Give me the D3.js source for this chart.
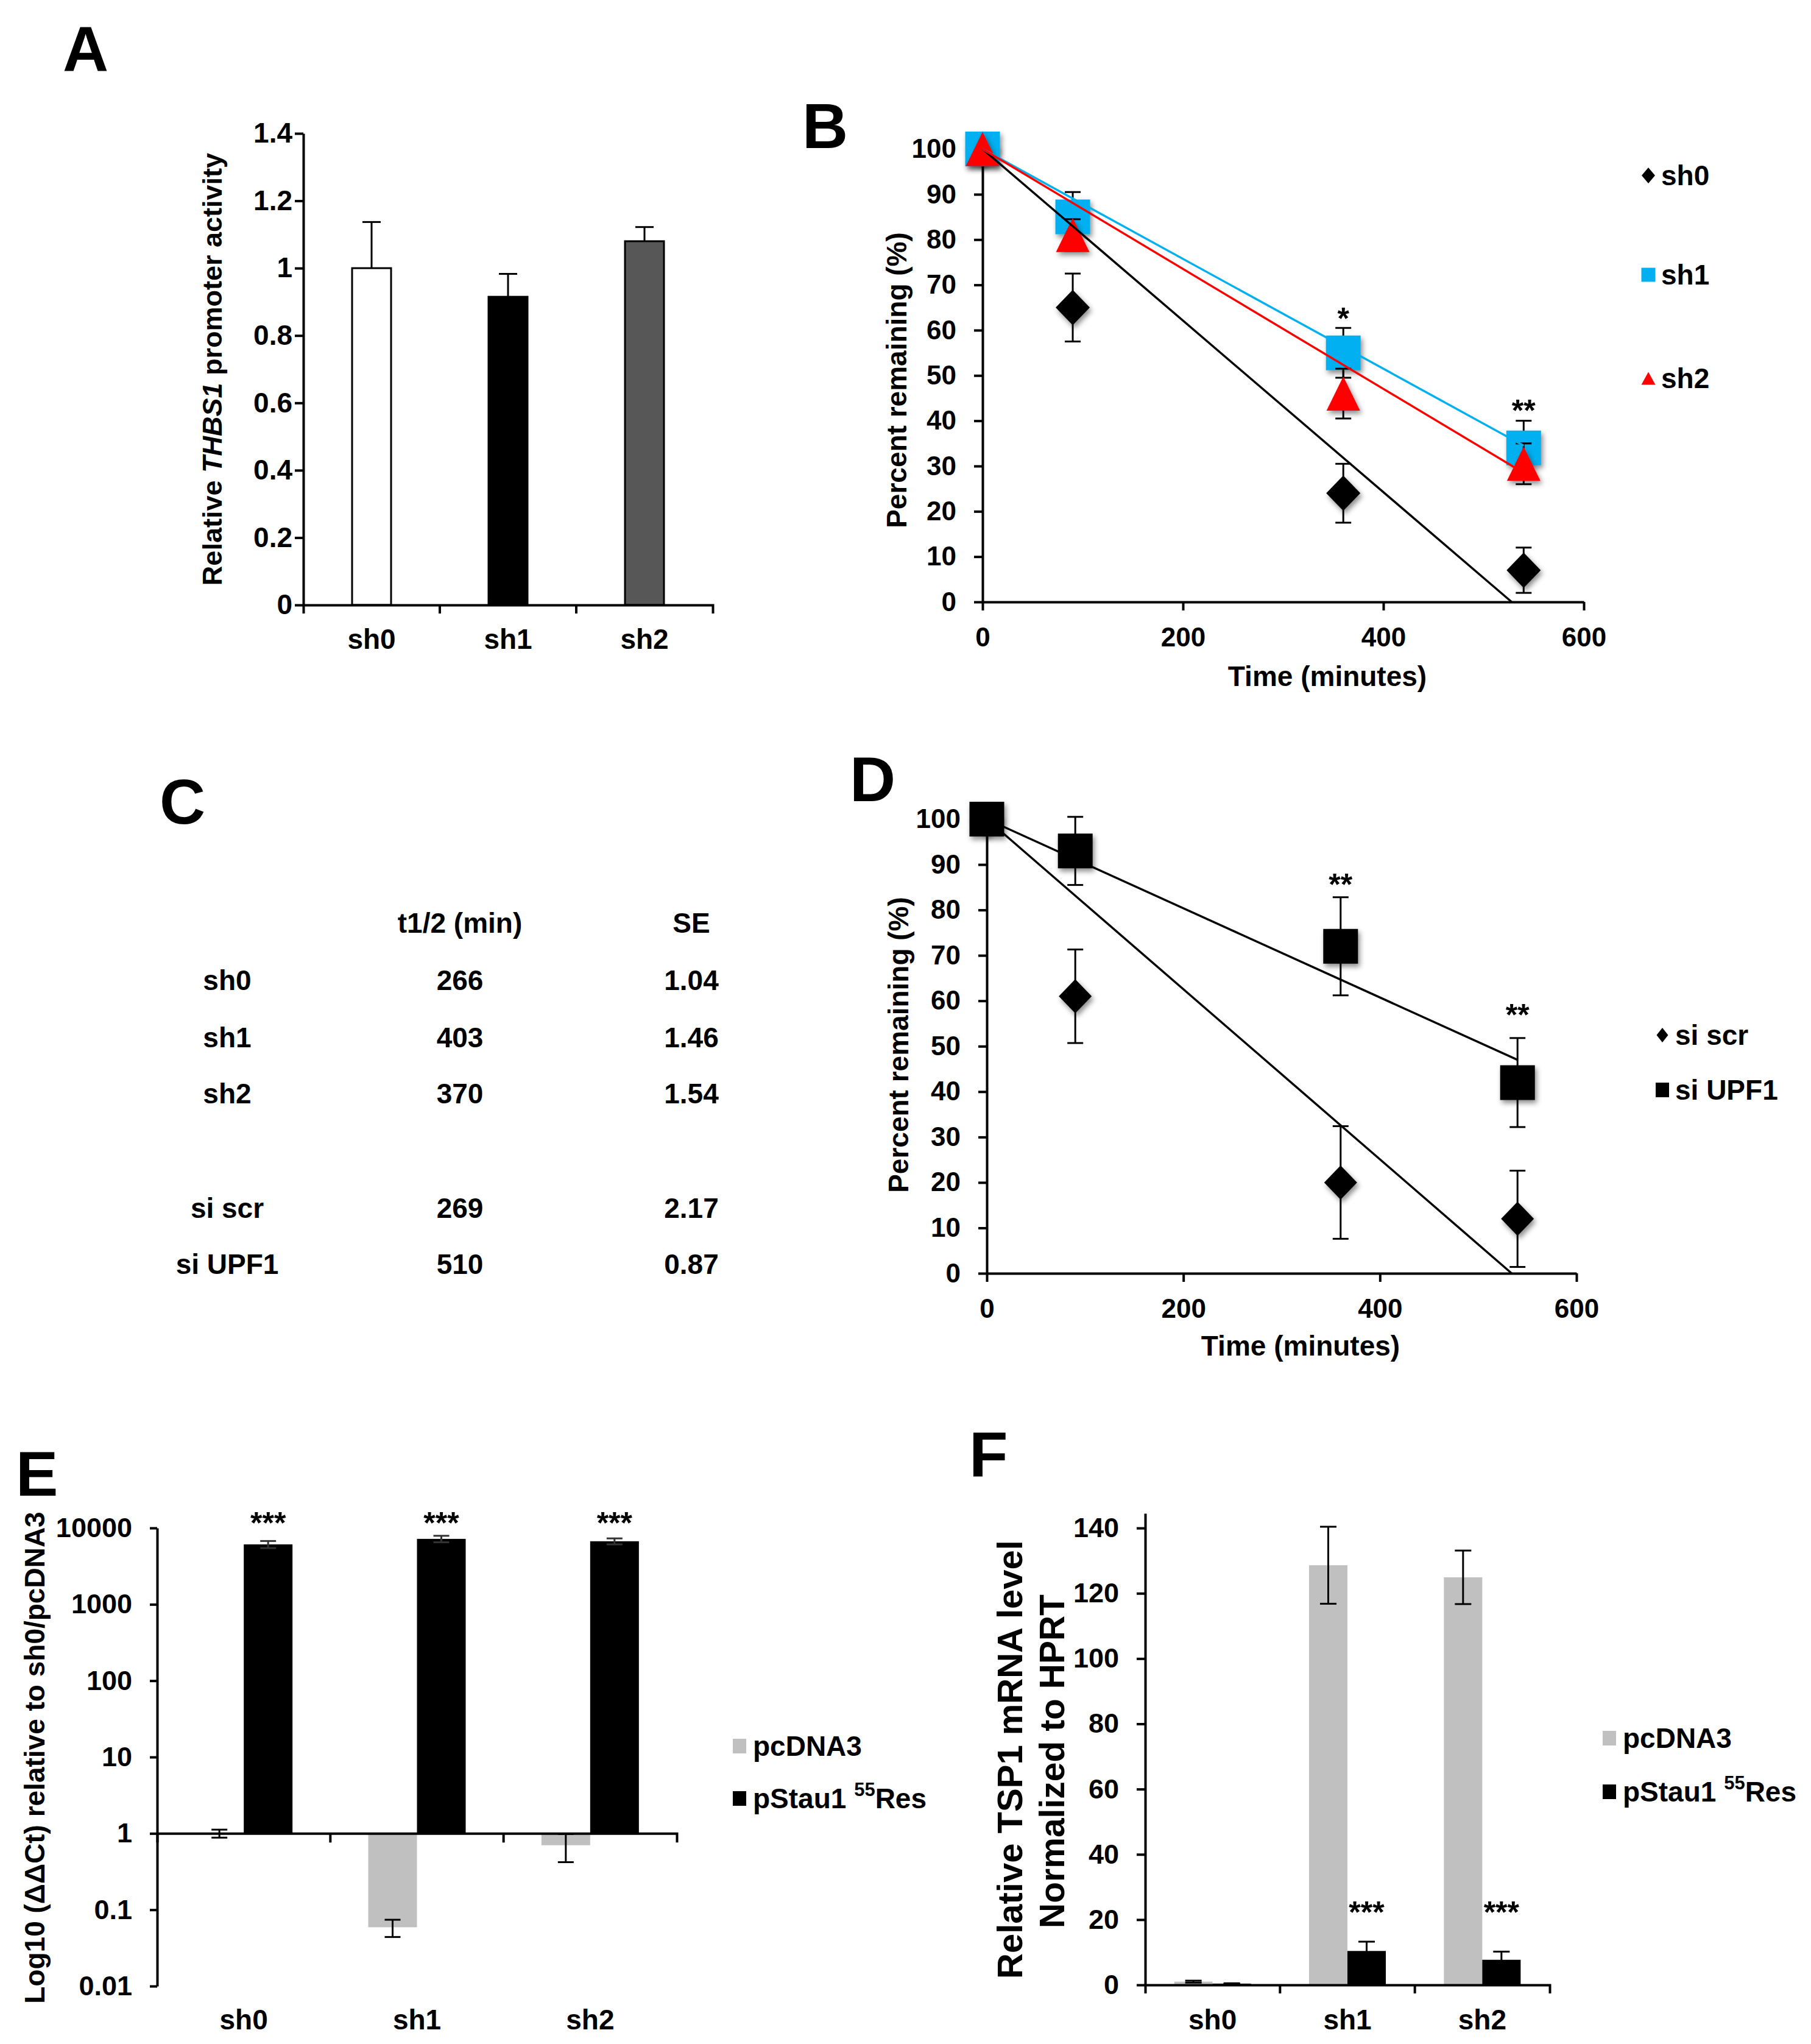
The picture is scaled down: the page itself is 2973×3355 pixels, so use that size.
<!DOCTYPE html>
<html>
<head>
<meta charset="utf-8">
<script src="https://cdn.jsdelivr.net/npm/d3@7/dist/d3.min.js"></script>
<style>
  body { margin: 0; background: #fff; }
  svg { display: block; }
</style>
</head>
<body>
<svg id="fig" width="2973" height="3355"></svg>
<script>
// ---------------- DATA ----------------
// Panel A
const catsA = ["sh0", "sh1", "sh2"];
const valuesA = [1.00, 0.915, 1.08];
const errorsA = [0.137, 0.068, 0.042];
const fillsA = ["#ffffff", "#000000", "#575757"];
const ticksA = [0, 0.2, 0.4, 0.6, 0.8, 1.0, 1.2, 1.4];
const tickLabelsA = ["0", "0.2", "0.4", "0.6", "0.8", "1", "1.2", "1.4"];

// Panel B
const timesB = [0, 90, 360, 540];
const sh0B = [100, 65, 24, 7];
const sh0ErrB = [0, 7.5, 6.5, 5];
const sh1B = [100, 85, 55, 34];
const sh1ErrB = [0, 5.5, 5.5, 6];
const sh2B = [100, 81, 46, 30.5];
const sh2ErrB = [0, 3.5, 5.5, 4.5];
const fitSh0B = [[0, 100], [528, 0]];
const fitSh1B = [[0, 100], [540, 34.5]];
const fitSh2B = [[0, 100], [540, 28.5]];
const starsB = [[360, 64, "*"], [540, 43.7, "**"]];
const xTicksB = [0, 200, 400, 600];
const yTicksB = [0, 10, 20, 30, 40, 50, 60, 70, 80, 90, 100];

// Panel C (table)
const tableHeaderC = ["", "t1/2 (min)", "SE"];
const rowNamesC = ["sh0", "sh1", "sh2", "si scr", "si UPF1"];
const halfLifeC = ["266", "403", "370", "269", "510"];
const seC = ["1.04", "1.46", "1.54", "2.17", "0.87"];

// Panel D
const timesD = [0, 90, 360, 540];
const scrD = [100, 61, 20, 12];
const scrErrD = [0, 10.3, 12.4, 10.6];
const upfD = [100, 93, 72, 42];
const upfErrD = [0, 7.5, 10.8, 9.8];
const fitScrD = [[0, 100], [534, 0]];
const fitUpfD = [[0, 100], [540, 47]];
const starsD = [[360, 87, "**"], [540, 58.3, "**"]];
const xTicksD = [0, 200, 400, 600];
const yTicksD = [0, 10, 20, 30, 40, 50, 60, 70, 80, 90, 100];

// Panel E (log scale)
const catsE = ["sh0", "sh1", "sh2"];
const pcE = [1.0, 0.059, 0.70];
const pcErrE = [0.12, 0.015, 0.28];
const psE = [6100, 7200, 6700];
const psErrE = [650, 700, 600];
const starsE = [14000, 14000, 14000];
const ticksE = [0.01, 0.1, 1, 10, 100, 1000, 10000];
const tickLabelsE = ["0.01", "0.1", "1", "10", "100", "1000", "10000"];

// Panel F
const catsF = ["sh0", "sh1", "sh2"];
const pcF = [1.0, 128.6, 124.9];
const pcErrF = [0.3, 11.8, 8.2];
const psF = [0.4, 10.4, 7.7];
const psErrF = [0.1, 2.85, 2.5];
const starsF = [null, 24.2, 24.2];
const ticksF = [0, 20, 40, 60, 80, 100, 120, 140];

// ---------------- HELPERS ----------------
const FONT = '"Liberation Sans", Arial, Helvetica, sans-serif';
const svg = d3.select("#fig");
const defs = svg.append("defs");
defs.append("filter").attr("id", "shadow")
  .attr("x", "-60%").attr("y", "-60%").attr("width", "220%").attr("height", "220%")
  .append("feDropShadow").attr("dx", 3).attr("dy", 5).attr("stdDeviation", 4)
  .attr("flood-color", "#000").attr("flood-opacity", 0.45);

function txt(g, x, y, s, size, opts = {}) {
  const t = g.append("text").attr("x", x).attr("y", y)
    .attr("font-family", FONT).attr("font-weight", "bold")
    .attr("font-size", size).attr("fill", "#000")
    .attr("text-anchor", opts.anchor || "start");
  if (opts.baseline) t.attr("dominant-baseline", opts.baseline);
  if (opts.rotate) t.attr("transform", `rotate(-90,${x},${y})`);
  if (s !== null) t.text(s);
  return t;
}

function styleAxis(g, fs) {
  g.attr("font-family", null).attr("font-size", null);
  g.selectAll("path.domain").attr("stroke", "#000").attr("stroke-width", 4).attr("fill", "none");
  g.selectAll(".tick line").attr("stroke", "#000").attr("stroke-width", 4);
  g.selectAll(".tick text").attr("font-family", FONT).attr("font-weight", "bold")
    .attr("font-size", fs).attr("fill", "#000");
}

function shapePath(type, w, h) {
  if (type === "square") return `M${-w/2},${-h/2}h${w}v${h}h${-w}Z`;
  if (type === "diamond") return `M0,${-h/2}L${w/2},0L0,${h/2}L${-w/2},0Z`;
  if (type === "triangle") return `M0,${-h/2}L${w/2},${h/2}L${-w/2},${h/2}Z`;
}

function errorBar(g, x, y1, y2, cap, sw, color) {
  g.append("line").attr("x1", x).attr("x2", x).attr("y1", y1).attr("y2", y2)
    .attr("stroke", color || "#000").attr("stroke-width", sw);
  [y1, y2].forEach(yy => g.append("line").attr("x1", x - cap/2).attr("x2", x + cap/2)
    .attr("y1", yy).attr("y2", yy).attr("stroke", color || "#000").attr("stroke-width", sw));
}

function starText(g, x, yCenter, s, size) {
  // asterisk glyph sits high in the em box; shift baseline so its centre is at yCenter
  txt(g, x, yCenter + 0.55 * size, s, size, { anchor: "middle" });
}

// ---------------- PANEL A ----------------
(function () {
  const g = svg.append("g");
  txt(g, 103, 116, "A", 104);
  const x = d3.scaleBand().domain(catsA).range([498, 1170]);
  const y = d3.scaleLinear().domain([0, 1.4]).range([993, 219]);
  const bw = 64;
  catsA.forEach((c, i) => {
    const cx = x(c) + x.bandwidth() / 2;
    errorBar(g, cx, y(valuesA[i]), y(valuesA[i] + errorsA[i]), 0, 3);
    g.append("line").attr("x1", cx - 15).attr("x2", cx + 15)
      .attr("y1", y(valuesA[i] + errorsA[i])).attr("y2", y(valuesA[i] + errorsA[i]))
      .attr("stroke", "#000").attr("stroke-width", 3);
    g.append("rect").attr("x", cx - bw / 2).attr("y", y(valuesA[i]))
      .attr("width", bw).attr("height", y(0) - y(valuesA[i]))
      .attr("fill", fillsA[i]).attr("stroke", "#000").attr("stroke-width", 3);
  });
  const ya = g.append("g").attr("transform", `translate(${x.range()[0]},0)`)
    .call(d3.axisLeft(y).tickValues(ticksA).tickFormat(d => tickLabelsA[ticksA.indexOf(d)])
      .tickSize(14).tickPadding(4).tickSizeOuter(0));
  styleAxis(ya, 46);
  const xa = g.append("g").attr("transform", `translate(0,${y(0)})`)
    .call(d3.axisBottom(x).tickSize(0).tickPadding(39).tickSizeOuter(14));
  styleAxis(xa, 46);
  catsA.slice(1).forEach(c => g.append("line").attr("x1", x(c)).attr("x2", x(c))
    .attr("y1", y(0)).attr("y2", y(0) + 14).attr("stroke", "#000").attr("stroke-width", 4));
  const t = txt(g, 348, 606, null, 45, { anchor: "middle", baseline: "central", rotate: true });
  t.append("tspan").text("Relative ");
  t.append("tspan").attr("font-style", "italic").text("THBS1");
  t.append("tspan").text(" promoter activity");
})();

// ---------------- line-plot helper (B, D) ----------------
function decayPanel(cfg) {
  const g = svg.append("g");
  const x = d3.scaleLinear().domain([0, 600]).range(cfg.xRange);
  const y = d3.scaleLinear().domain([0, 100]).range(cfg.yRange);
  const ya = g.append("g").attr("transform", `translate(${x(0)},0)`)
    .call(d3.axisLeft(y).tickValues(cfg.yTicks).tickSize(14).tickPadding(29).tickSizeOuter(0));
  styleAxis(ya, 44);
  const xa = g.append("g").attr("transform", `translate(0,${y(0)})`)
    .call(d3.axisBottom(x).tickValues(cfg.xTicks).tickSize(14).tickPadding(28).tickSizeOuter(0));
  styleAxis(xa, 44);

  cfg.series.forEach(s => {
    cfg.times.forEach((t, i) => {
      if (s.err[i] > 0) errorBar(g, x(t), y(s.vals[i] - s.err[i]), y(s.vals[i] + s.err[i]), 26, 3);
    });
    g.selectAll(null).data(cfg.times).join("path")
      .attr("d", shapePath(s.shape, s.w, s.h))
      .attr("transform", (t, i) => `translate(${x(t)},${y(s.vals[i])})`)
      .attr("fill", s.color).attr("filter", "url(#shadow)");
  });
  const line = d3.line().x(d => x(d[0])).y(d => y(d[1]));
  cfg.series.forEach(s => {
    g.append("path").attr("d", line(s.fit)).attr("fill", "none")
      .attr("stroke", s.lineColor).attr("stroke-width", 3.5);
  });
  cfg.stars.forEach(st => starText(g, x(st[0]), y(st[1]), st[2], 50));
  // legend
  cfg.series.forEach((s, i) => {
    const ly = cfg.legendY[i];
    g.append("path").attr("d", shapePath(s.shape, s.lw, s.lh))
      .attr("transform", `translate(${cfg.legendX},${ly})`).attr("fill", s.color);
    txt(g, cfg.legendX + 21, ly, s.name, 46, { baseline: "central" });
  });
  txt(g, cfg.xTitle[0], cfg.xTitle[1], "Time (minutes)", 46, { anchor: "middle", baseline: "central" });
  txt(g, cfg.yTitle[0], cfg.yTitle[1], "Percent remaining (%)", 46, { anchor: "middle", baseline: "central", rotate: true });
  txt(g, cfg.label[0], cfg.label[1], cfg.label[2], 104);
}

// ---------------- PANEL B ----------------
decayPanel({
  xRange: [1613, 2600], yRange: [988, 244.6],
  xTicks: xTicksB, yTicks: yTicksB, times: timesB,
  series: [
    { name: "sh0", vals: sh0B, err: sh0ErrB, fit: fitSh0B, shape: "diamond", w: 56, h: 58, lw: 22, lh: 26, color: "#000000", lineColor: "#000000" },
    { name: "sh1", vals: sh1B, err: sh1ErrB, fit: fitSh1B, shape: "square", w: 57, h: 57, lw: 23, lh: 23, color: "#00b0f0", lineColor: "#00b0f0" },
    { name: "sh2", vals: sh2B, err: sh2ErrB, fit: fitSh2B, shape: "triangle", w: 55, h: 56, lw: 23, lh: 21, color: "#ff0000", lineColor: "#ff0000" }
  ],
  stars: starsB,
  legendX: 2706, legendY: [288, 451, 621],
  xTitle: [2179, 1110], yTitle: [1472, 624],
  label: [1317, 243, "B"]
});

// ---------------- PANEL C ----------------
(function () {
  const g = svg.append("g");
  txt(g, 262, 1352, "C", 104);
  const colX = [373, 755, 1135];
  const rowY = [1609, 1703, 1795, 1983, 2075];
  tableHeaderC.forEach((h, j) => { if (h) txt(g, colX[j], 1515, h, 46, { anchor: "middle", baseline: "central" }); });
  rowNamesC.forEach((r, i) => {
    txt(g, colX[0], rowY[i], r, 46, { anchor: "middle", baseline: "central" });
    txt(g, colX[1], rowY[i], halfLifeC[i], 46, { anchor: "middle", baseline: "central" });
    txt(g, colX[2], rowY[i], seC[i], 46, { anchor: "middle", baseline: "central" });
  });
})();

// ---------------- PANEL D ----------------
decayPanel({
  xRange: [1620, 2588], yRange: [2090, 1344.5],
  xTicks: xTicksD, yTicks: yTicksD, times: timesD,
  series: [
    { name: "si scr", vals: scrD, err: scrErrD, fit: fitScrD, shape: "diamond", w: 54, h: 56, lw: 19, lh: 24, color: "#000000", lineColor: "#000000" },
    { name: "si UPF1", vals: upfD, err: upfErrD, fit: fitUpfD, shape: "square", w: 57, h: 57, lw: 22, lh: 24, color: "#000000", lineColor: "#000000" }
  ],
  stars: starsD,
  legendX: 2729, legendY: [1699, 1789],
  xTitle: [2135, 2209], yTitle: [1475, 1715],
  label: [1395, 1315, "D"]
});

// ---------------- legend helper (E, F) ----------------
function barLegend(g, lx, ys) {
  g.append("rect").attr("x", lx - 11).attr("y", ys[0] - 12).attr("width", 22).attr("height", 24).attr("fill", "#c0c0c0");
  txt(g, lx + 22, ys[0], "pcDNA3", 46, { baseline: "central" });
  g.append("rect").attr("x", lx - 11).attr("y", ys[1] - 12).attr("width", 22).attr("height", 24).attr("fill", "#000");
  const t = txt(g, lx + 22, ys[1], null, 46, { baseline: "central" });
  t.append("tspan").text("pStau1 ");
  t.append("tspan").attr("font-size", 31).attr("dy", -15).text("55");
  t.append("tspan").attr("font-size", 46).attr("dy", 15).text("Res");
}

// ---------------- PANEL E ----------------
(function () {
  const g = svg.append("g");
  txt(g, 26, 2455, "E", 104);
  const x = d3.scaleBand().domain(catsE).range([258, 1111]);
  const y = d3.scaleLog().domain([0.01, 10000]).range([3260, 2508]);
  const bw = 80;
  catsE.forEach((c, i) => {
    const cx = x(c) + x.bandwidth() / 2;
    // pcDNA3 (grey), grows from 1
    const gy = y(pcE[i]);
    g.append("rect").attr("x", cx - bw).attr("y", Math.min(gy, y(1)))
      .attr("width", bw).attr("height", Math.abs(gy - y(1))).attr("fill", "#c0c0c0");
    errorBar(g, cx - bw / 2, y(pcE[i] - pcErrE[i]), y(pcE[i] + pcErrE[i]), 26, 3);
    // pStau1 55Res (black)
    const by = y(psE[i]);
    g.append("rect").attr("x", cx).attr("y", by)
      .attr("width", bw).attr("height", y(1) - by).attr("fill", "#000");
    errorBar(g, cx + bw / 2, y(psE[i] - psErrE[i]), y(psE[i] + psErrE[i]), 26, 3, "#333");
    starText(g, cx + bw / 2, y(starsE[i]), "***", 50);
  });
  const ya = g.append("g").attr("transform", `translate(${x.range()[0]},0)`)
    .call(d3.axisLeft(y).tickValues(ticksE).tickFormat(d => tickLabelsE[ticksE.indexOf(d)])
      .tickSize(12).tickPadding(29).tickSizeOuter(0));
  styleAxis(ya, 45);
  const xa = g.append("g").attr("transform", `translate(0,${y(1)})`)
    .call(d3.axisBottom(x).tickSize(0).tickFormat(() => "").tickSizeOuter(15));
  styleAxis(xa, 45);
  catsE.slice(1).forEach(c => g.append("line").attr("x1", x(c)).attr("x2", x(c))
    .attr("y1", y(1)).attr("y2", y(1) + 15).attr("stroke", "#000").attr("stroke-width", 4));
  const xl = g.append("g").attr("transform", `translate(0,${y(0.01)})`)
    .call(d3.axisBottom(x).tickSize(0).tickPadding(38));
  xl.select("path.domain").remove();
  styleAxis(xl, 46);
  txt(g, 57, 2885, "Log10 (ΔΔCt) relative to sh0/pcDNA3", 46, { anchor: "middle", baseline: "central", rotate: true });
  barLegend(g, 1214, [2866, 2952]);
})();

// ---------------- PANEL F ----------------
(function () {
  const g = svg.append("g");
  txt(g, 1591, 2423, "F", 104);
  const x = d3.scaleBand().domain(catsF).range([1880, 2544]);
  const y = d3.scaleLinear().domain([0, 144.5]).range([3258, 2484]);
  const bw = 63;
  catsF.forEach((c, i) => {
    const cx = x(c) + x.bandwidth() / 2;
    g.append("rect").attr("x", cx - bw).attr("y", y(pcF[i]))
      .attr("width", bw).attr("height", y(0) - y(pcF[i])).attr("fill", "#c0c0c0");
    errorBar(g, cx - bw / 2, y(pcF[i] - pcErrF[i]), y(pcF[i] + pcErrF[i]), 27, 3);
    g.append("rect").attr("x", cx).attr("y", y(psF[i]))
      .attr("width", bw).attr("height", y(0) - y(psF[i])).attr("fill", "#000");
    errorBar(g, cx + bw / 2, y(psF[i] - psErrF[i]), y(psF[i] + psErrF[i]), 27, 3);
    if (starsF[i] !== null) starText(g, cx + bw / 2, y(starsF[i]), "***", 50);
  });
  const ya = g.append("g").attr("transform", `translate(${x.range()[0]},0)`)
    .call(d3.axisLeft(y).tickValues(ticksF).tickSize(14).tickPadding(29).tickSizeOuter(0));
  styleAxis(ya, 45);
  const xa = g.append("g").attr("transform", `translate(0,${y(0)})`)
    .call(d3.axisBottom(x).tickSize(0).tickPadding(40).tickSizeOuter(14));
  styleAxis(xa, 46);
  catsF.slice(1).forEach(c => g.append("line").attr("x1", x(c)).attr("x2", x(c))
    .attr("y1", y(0)).attr("y2", y(0) + 14).attr("stroke", "#000").attr("stroke-width", 4));
  txt(g, 1657, 2888, "Relative TSP1 mRNA level", 58, { anchor: "middle", baseline: "central", rotate: true });
  txt(g, 1727, 2891, "Normalized to HPRT", 57, { anchor: "middle", baseline: "central", rotate: true });
  barLegend(g, 2642, [2853, 2941]);
})();
</script>
</body>
</html>
